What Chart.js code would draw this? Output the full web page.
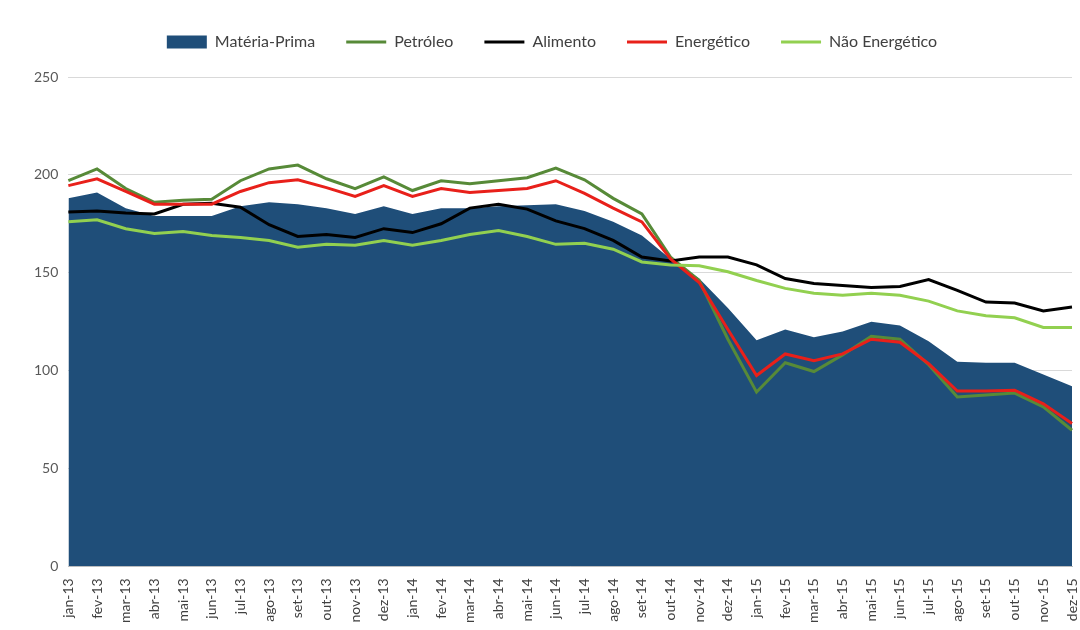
<!DOCTYPE html>
<html>
<head>
<meta charset="utf-8">
<script src="https://cdn.jsdelivr.net/npm/chart.js@4/dist/chart.umd.min.js"></script>
<style>
  html, body { margin: 0; padding: 0; background: #fff; }
  #wrap { width: 1080px; height: 630px; position: relative; }
</style>
</head>
<body>
<div id="wrap"><canvas id="myChart" width="1080" height="630"></canvas></div>
<script>
const months = ["jan-13","fev-13","mar-13","abr-13","mai-13","jun-13","jul-13","ago-13","set-13","out-13","nov-13","dez-13",
                "jan-14","fev-14","mar-14","abr-14","mai-14","jun-14","jul-14","ago-14","set-14","out-14","nov-14","dez-14",
                "jan-15","fev-15","mar-15","abr-15","mai-15","jun-15","jul-15","ago-15","set-15","out-15","nov-15","dez-15"];

const materiaPrima = [188, 191, 183, 179, 179, 179, 184, 186, 185, 183, 180, 184,
                      180, 183, 183, 184, 184.5, 185, 181.5, 176, 169, 157, 147, 132,
                      115.5, 121, 117, 120, 125, 123, 115, 104.5, 104, 104, 98, 92];
const petroleo = [197, 203, 193, 186, 187, 187.5, 197, 203, 205, 198, 193, 199,
                  192, 197, 195.5, 197, 198.5, 203.5, 197.5, 188, 180, 158, 146, 116,
                  89, 104, 99.5, 108, 117.5, 116, 103, 86.5, 87.5, 88.5, 81.5, 69.5];
const alimento = [181, 181.5, 180.5, 180, 185, 185.5, 183.5, 174.5, 168.5, 169.5, 168, 172.5,
                  170.5, 175, 183, 185, 182.5, 176.5, 172.5, 166.5, 158, 156, 158, 158,
                  154, 147, 144.5, 143.5, 142.5, 143, 146.5, 141, 135, 134.5, 130.5, 132.5];
const energetico = [194.5, 198, 191.5, 185, 185, 185, 191.5, 196, 197.5, 193.5, 189, 194.5,
                    189, 193, 191, 192, 193, 197, 190.5, 183, 176, 157, 145, 121,
                    97.5, 108.5, 105, 108.5, 116, 114.5, 103.5, 89.5, 89.5, 90, 83, 73];
const naoEnergetico = [176, 177, 172.5, 170, 171, 169, 168, 166.5, 163, 164.5, 164, 166.5,
                       164, 166.5, 169.5, 171.5, 168.5, 164.5, 165, 162, 155.5, 154, 153.5, 150.5,
                       146, 142, 139.5, 138.5, 139.5, 138.5, 135.5, 130.5, 128, 127, 122, 122];

const yTicks = [0, 50, 100, 150, 200, 250];

const fontFamily = "Lato, 'Noto Sans', sans-serif";

// extra space under the legend
const legendGap = {
  id: 'legendGap',
  beforeInit(chart) {
    const fit = chart.legend.fit;
    chart.legend.fit = function () {
      fit.bind(chart.legend)();
      this.height += 17;
    };
  }
};

function lineSet(label, data, color, order) {
  return {
    label: label,
    data: data,
    borderColor: color,
    backgroundColor: color,
    borderWidth: 3,
    pointRadius: 0,
    tension: 0,
    fill: false,
    order: order
  };
}

new Chart(document.getElementById('myChart'), {
  type: 'line',
  data: {
    labels: months,
    datasets: [
      {
        label: 'Matéria-Prima',
        data: materiaPrima,
        borderColor: '#1F4E79',
        backgroundColor: '#1F4E79',
        borderWidth: 0,
        pointRadius: 0,
        tension: 0,
        fill: 'origin',
        order: 10
      },
      lineSet('Petróleo', petroleo, '#578A38', 4),
      lineSet('Alimento', alimento, '#000000', 3),
      lineSet('Energético', energetico, '#E8201A', 2),
      lineSet('Não Energético', naoEnergetico, '#92D050', 1)
    ]
  },
  plugins: [legendGap],
  options: {
    responsive: false,
    animation: false,
    layout: { padding: { left: 24, right: 0, top: 3, bottom: 3 } },
    plugins: {
      tooltip: { enabled: false },
      legend: {
        position: 'top',
        labels: {
          color: '#404040',
          font: { family: fontFamily, size: 16 },
          usePointStyle: true,
          pointStyleWidth: 40,
          boxHeight: 13,
          padding: 31,
          sort: (a, b) => a.datasetIndex - b.datasetIndex,
          generateLabels(chart) {
            const items = Chart.defaults.plugins.legend.labels.generateLabels(chart);
            items.forEach(it => {
              if (it.datasetIndex === 0) {
                it.pointStyle = 'rect';
                it.lineWidth = 0;
              } else {
                it.pointStyle = 'line';
                it.lineWidth = 3;
              }
            });
            return items;
          }
        }
      }
    },
    scales: {
      x: {
        offset: false,
        grid: { display: false },
        border: { color: '#BFBFBF', width: 1 },
        afterFit(axis) {
          axis.paddingRight = 8;
        },
        ticks: {
          autoSkip: false,
          maxRotation: 90,
          minRotation: 90,
          color: '#404040',
          padding: 4,
          font: { family: fontFamily, size: 14 }
        }
      },
      y: {
        min: 0,
        max: 250,
        afterBuildTicks(axis) {
          axis.ticks = yTicks.map(v => ({ value: v }));
        },
        grid: { color: '#D9D9D9', drawTicks: false },
        border: { display: false },
        ticks: {
          color: '#595959',
          padding: 10,
          font: { family: fontFamily, size: 14 }
        }
      }
    }
  }
});
</script>
</body>
</html>
